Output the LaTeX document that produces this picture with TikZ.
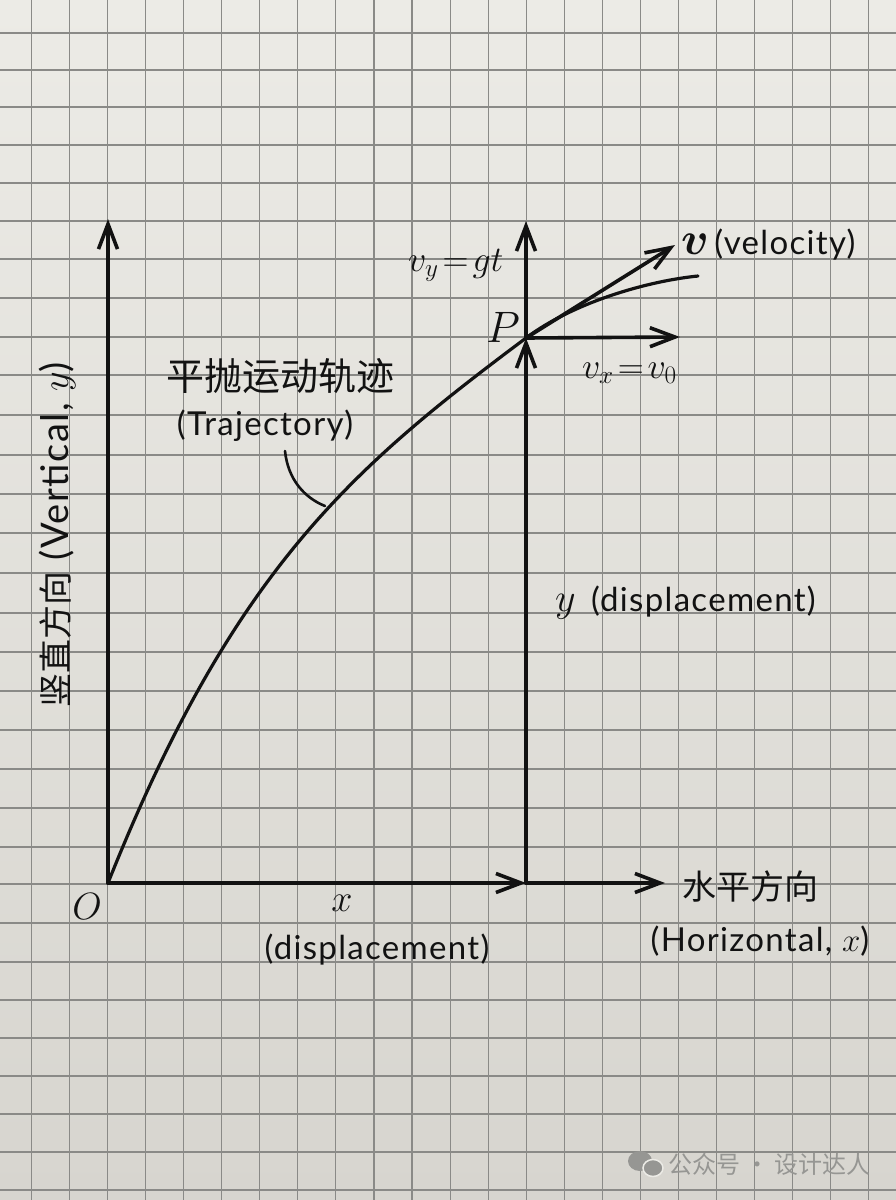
\RequirePackage{fix-cm}
\documentclass[tikz,border=0pt]{standalone}
\usepackage{fontspec}
\setmainfont{Lato}[LetterSpace=4]
\newfontfamily\cjk{Noto Sans CJK SC}
\usepackage{bm}
\usetikzlibrary{arrows.meta}
\definecolor{papertop}{RGB}{236,235,230}
\definecolor{paperbot}{RGB}{215,213,207}
\definecolor{gridc}{RGB}{138,138,135}
\definecolor{ink}{RGB}{18,18,18}
\definecolor{wm}{RGB}{150,150,147}
\tikzset{
  gridline/.style={draw=gridc, line width=1.1pt},
  axis/.style={draw=ink, line width=3.6pt, line cap=round,
    -{Straight Barb[length=25pt,width=19pt]}},
  curvestyle/.style={draw=ink, line width=3.2pt, line cap=round},
  leader/.style={draw=ink, line width=2.6pt, line cap=round},
  lab/.style={text=ink, inner sep=0pt, font=\fontsize{33}{36}\selectfont},
  varlab/.style={text=ink, inner sep=0pt, font=\fontsize{38}{40}\selectfont},
  cjklab/.style={text=ink, inner sep=0pt, font=\cjk\fontsize{34}{38}\selectfont},
}
\begin{document}
\begin{tikzpicture}[x=1pt,y=-1pt]
\useasboundingbox (0,0) rectangle (896,1200);
\shade[top color=papertop, bottom color=paperbot] (0,0) rectangle (896,1200);
% grid
\foreach \k in {0,...,22} \draw[gridline] ({31.5+38.05*\k},0) -- ({31.5+38.05*\k},1200);
\foreach \yy in {33,70,107,145,183,221,259,298,337,375,415,455,494,533,573,613,652,691,730,769,808,847,884,923,962,1000,1038,1076,1114,1152,1190}
  \draw[gridline] (0,\yy) -- (896,\yy);
% key points
\coordinate (O) at (108,883);
\coordinate (P) at (526,338);
\coordinate (F) at (526,883);
\coordinate (Xend) at (665,883);
\coordinate (Yend) at (108,219);
\coordinate (Vy) at (526,221);
\coordinate (Vx) at (680,337);
\coordinate (V) at (675,245);
\coordinate (T) at (698,276);
\coordinate (L1) at (285,451);
\coordinate (L2) at (325,506);
% trajectory
\draw[curvestyle] (O) .. controls (234,567) and (355,466) .. (P)
   .. controls (574,302) and (648,281) .. (T);
\draw[leader] (L1) .. controls (288,480) and (305,498) .. (L2);
% axes and vectors
\draw[axis] (O) -- (Yend);
\draw[axis] (O) -- (F);
\draw[axis] (F) -- (Xend);
\draw[axis] (F) -- (P);
\draw[axis] (P) -- (Vy);
\draw[axis] (P) -- (Vx);
\draw[axis] (P) -- (V);
% labels
\node[varlab] (Olab) at (87,907) {$O$};
\node[varlab] (xlab) at (342,903) {$x$};
\node[lab] (xdisp) at (377,950) {(displacement)};
\node[cjklab] (hzcn) at (750,887) {水平方向};
\node[lab] (hzen) at (760,941) {(Horizontal, $x$)};
\node[lab, font=\fontsize{38}{40}\selectfont, rotate=90, anchor=center] (vert) at (57,535) {{\cjk\fontsize{34}{36}\selectfont 竖直方向} (Vertical, $y$)};
\node[cjklab, font=\cjk\fontsize{38}{42}\selectfont] (trajcn) at (280,376) {平抛运动轨迹};
\node[lab] (trajen) at (265,426) {(Trajectory)};
\node[lab, anchor=base west] (ydisp) at (555,611) {{\fontsize{40}{42}\selectfont$y$}\ \,(displacement)};
\node[varlab, font=\fontsize{44}{46}\selectfont] (Plab) at (503,327) {$P$};
\node[varlab, font=\fontsize{36}{40}\selectfont, anchor=base west] (vylab) at (408,271) {$v_y\!=\!gt$};
\node[lab, anchor=west] (vlab) at (681,245) {{\fontsize{46}{48}\selectfont$\bm{v}$}\,(velocity)};
\node[varlab, font=\fontsize{36}{40}\selectfont, anchor=base west] (vxlab) at (582,378) {$v_x\!=\!v_0$};
% watermark
\fill[wm] (640,1161) ellipse [x radius=12, y radius=10];
\fill[wm, draw=papertop, line width=1.5pt] (653,1168) ellipse [x radius=10, y radius=8.5];
\node[text=wm, inner sep=0pt, font=\cjk\fontsize{24}{26}\selectfont, anchor=west] (wmtext) at (668,1164) {公众号 · 设计达人};
\end{tikzpicture}
\end{document}
